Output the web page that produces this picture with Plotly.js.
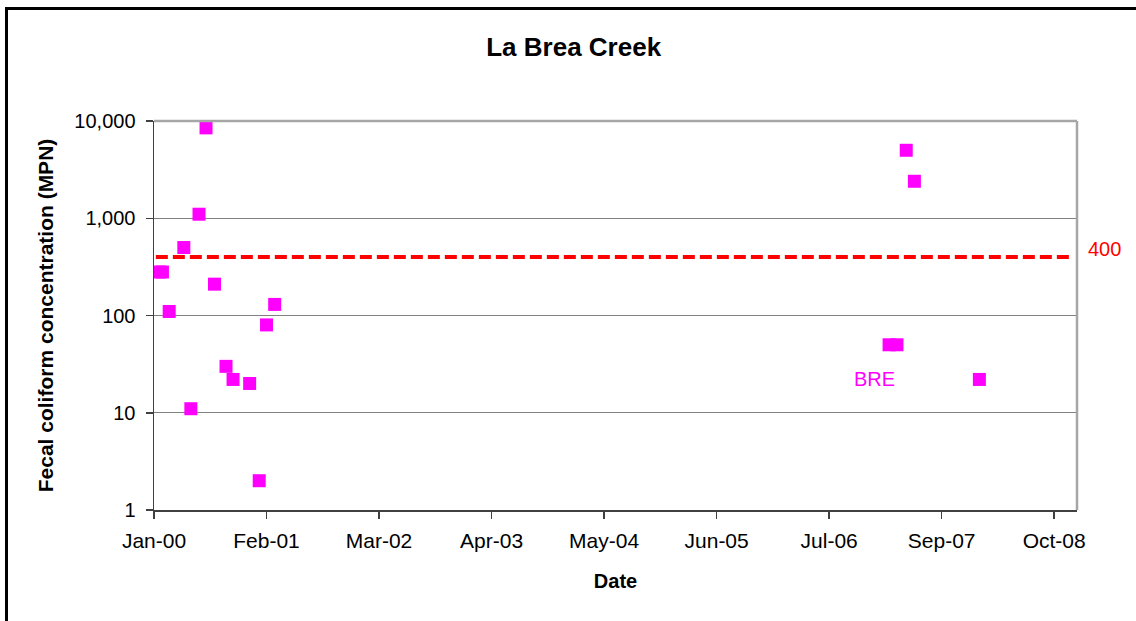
<!DOCTYPE html>
<html>
<head>
<meta charset="utf-8">
<script src="https://cdn.plot.ly/plotly-3.0.1.min.js"></script>
<style>
  html, body { margin: 0; padding: 0; background: #fff; }
  #wrap { position: relative; width: 1136px; height: 621px; overflow: hidden; }
  #chart { width: 1136px; height: 621px; }
  #frame { position: absolute; left: 5px; top: 7px; width: 1200px; height: 700px;
           border-left: 3px solid #000; border-top: 3px solid #000; pointer-events: none; }
</style>
</head>
<body>
<div id="wrap">
  <div id="chart"></div>
  <div id="frame"></div>
</div>
<script>
// ---- data ----
const sampleDates = [
  "2000-01-20", "2000-01-31", "2000-02-24", "2000-04-16", "2000-05-11",
  "2000-06-09", "2000-07-04", "2000-08-03", "2000-09-13", "2000-10-08",
  "2000-12-06", "2001-01-09", "2001-02-04", "2001-03-05",
  "2007-02-26", "2007-03-26", "2007-04-28", "2007-05-27", "2008-01-13"
];
const fecalColiform = [
  280, 280, 110, 500, 11,
  1100, 8500, 210, 30, 22,
  20, 2, 80, 130,
  50, 50, 5000, 2400, 22
];
const stationName = "BRE";
const stationLabelDate = "2007-01-04";
const stationLabelValue = 22;
const limitValue = 400;
const xTickVals = ["2000-01-01", "2001-02-04", "2002-03-11", "2003-04-15", "2004-05-19",
                   "2005-06-23", "2006-07-28", "2007-09-01", "2008-10-05"];
const xTickText = ["Jan-00", "Feb-01", "Mar-02", "Apr-03", "May-04",
                   "Jun-05", "Jul-06", "Sep-07", "Oct-08"];
const xRange = ["2000-01-01", "2008-12-25"];
const yTickVals = [1, 10, 100, 1000, 10000];
const yTickText = ["1", "10", "100", "1,000", "10,000"];

const FONT = "Liberation Sans, Arial, sans-serif";

const traces = [{
  type: "scatter",
  mode: "markers",
  x: sampleDates,
  y: fecalColiform,
  name: stationName,
  marker: { symbol: "square", size: 13, color: "#FF00FF", line: { width: 0 } },
  showlegend: false,
  hoverinfo: "x+y"
}];

const layout = {
  width: 1136,
  height: 621,
  paper_bgcolor: "#ffffff",
  plot_bgcolor: "#ffffff",
  margin: { l: 154, r: 59, t: 121, b: 111, pad: 0 },
  font: { family: FONT, size: 20, color: "#000" },
  showlegend: false,
  title: {
    text: "La Brea Creek",
    font: { family: FONT, size: 26, weight: "bold", color: "#000" },
    xref: "container", x: 0.505, xanchor: "center",
    yref: "container", y: 0.925, yanchor: "middle"
  },
  xaxis: {
    type: "date",
    range: xRange,
    tickmode: "array",
    tickvals: xTickVals,
    ticktext: xTickText,
    ticks: "outside",
    ticklen: 7,
    tickwidth: 1.5,
    tickcolor: "#404040",
    ticklabelstandoff: 4,
    showline: true,
    linecolor: "#404040",
    linewidth: 1.5,
    showgrid: false,
    zeroline: false,
    tickfont: { family: FONT, size: 21, color: "#000" },
    title: { text: "Date", font: { family: FONT, size: 20, weight: "bold", color: "#000" }, standoff: 23 },
    automargin: false
  },
  yaxis: {
    type: "log",
    range: [0, 4],
    tickmode: "array",
    tickvals: yTickVals,
    ticktext: yTickText,
    ticks: "outside",
    ticklen: 7,
    tickwidth: 1.5,
    tickcolor: "#404040",
    ticklabelstandoff: 6,
    showline: true,
    linecolor: "#404040",
    linewidth: 1.5,
    showgrid: true,
    gridcolor: "#808080",
    gridwidth: 1,
    zeroline: false,
    tickfont: { family: FONT, size: 20, color: "#000" },
    title: { text: "Fecal coliform concentration (MPN)",
             font: { family: FONT, size: 21, weight: "bold", color: "#000" }, standoff: 15 },
    automargin: false
  },
  shapes: [
    { type: "line", xref: "paper", yref: "paper", x0: 0, x1: 1, y0: 1, y1: 1,
      line: { color: "#A6A6A6", width: 2.5 }, layer: "above" },
    { type: "line", xref: "paper", yref: "paper", x0: 1, x1: 1, y0: 0, y1: 1,
      line: { color: "#A6A6A6", width: 2.5 }, layer: "above" },
    { type: "line", xref: "paper", yref: "y", x0: 0.002, x1: 0.996,
      y0: limitValue, y1: limitValue,
      line: { color: "#FF0000", width: 4, dash: "12px,5px" }, layer: "above" }
  ],
  annotations: [
    { xref: "paper", yref: "y", x: 1, y: Math.log10(limitValue), xanchor: "left", yanchor: "middle",
      xshift: 9, yshift: 8, text: String(limitValue), showarrow: false,
      font: { family: FONT, size: 20, color: "#FF0000" } },
    { xref: "x", yref: "y", x: stationLabelDate, y: Math.log10(stationLabelValue),
      xanchor: "center", yanchor: "middle", text: stationName, showarrow: false,
      font: { family: FONT, size: 20, color: "#FF00FF" } }
  ]
};

Plotly.newPlot("chart", traces, layout, { displayModeBar: false, staticPlot: true });
</script>
</body>
</html>
